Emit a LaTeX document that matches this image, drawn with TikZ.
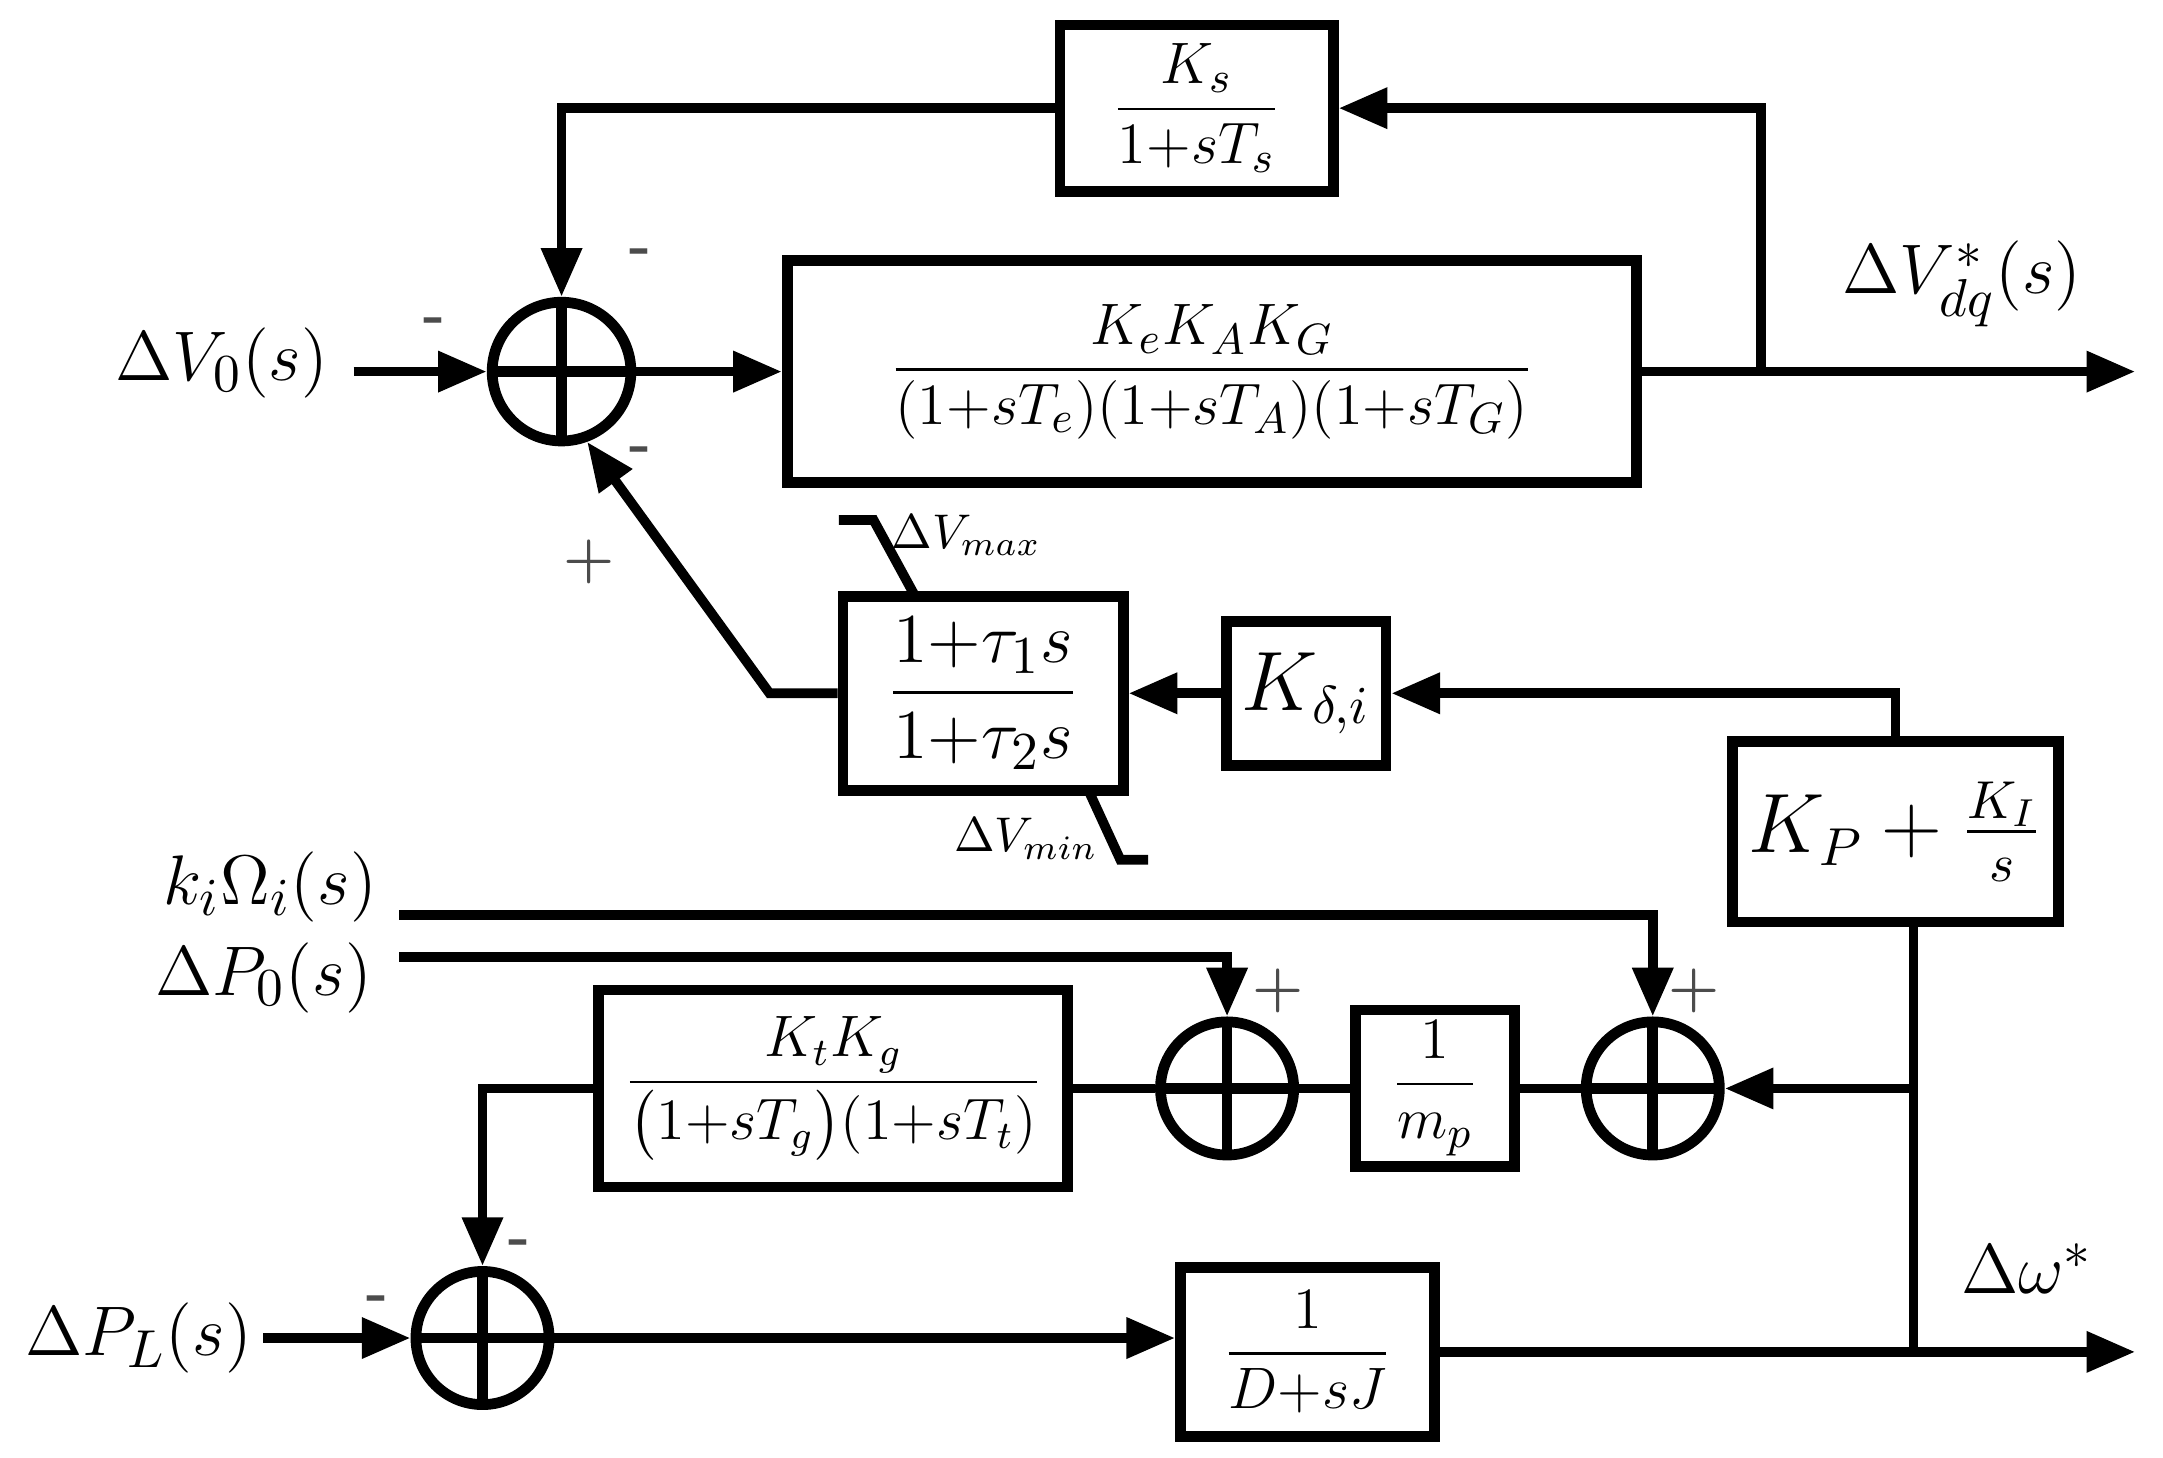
\documentclass[tikz,border=0pt]{standalone}
\usepackage{amsmath}
\usetikzlibrary{arrows.meta}
\begin{document}
\begin{tikzpicture}[x=0.01cm,y=-0.01cm,line width=2pt,
  blk/.style={draw,line width=2.2pt,inner sep=0pt},
  sum/.style={draw,circle,line width=2.2pt,minimum size=0.96cm,inner sep=0pt,
    path picture={\draw[line width=2.2pt] (path picture bounding box.north)--(path picture bounding box.south) (path picture bounding box.west)--(path picture bounding box.east);}},
  arr/.style={-{Triangle[length=10pt,width=8pt]}},
  sg/.style={font=\bfseries\large,text=black!70},
  lbl/.style={font=\fontsize{15}{18}\selectfont}]
\useasboundingbox (0,0) rectangle (1560,1051);
% sum nodes
\node[sum,minimum size=1.0cm] (s1) at (405,268) {};
\node[sum] (s2) at (885,785) {};
\node[sum] (s3) at (1192,785) {};
\node[sum] (s4) at (348,965) {};
% blocks
\node[blk,minimum width=6.12cm,minimum height=1.6cm] (G) at (874,268) {\fontsize{13}{16}\selectfont$\dfrac{K_eK_AK_G}{(1{+}sT_e)(1{+}sT_A)(1{+}sT_G)}$};
\node[blk,minimum width=1.97cm,minimum height=1.2cm] (Ks) at (863,78) {\fontsize{13}{16}\selectfont$\dfrac{K_s}{1{+}sT_s}$};
\node[blk,minimum width=2.02cm,minimum height=1.4cm] (LL) at (709,500) {\fontsize{15}{18}\selectfont$\dfrac{1{+}\tau_1 s}{1{+}\tau_2 s}$};
\node[blk,minimum width=1.15cm,minimum height=1.04cm] (Kd) at (942,500) {\fontsize{16}{19}\selectfont$K_{\delta,i}$};
\node[blk,minimum width=2.35cm,minimum height=1.3cm] (PI) at (1367,600) {\fontsize{16}{19}\selectfont$K_P+\frac{K_I}{s}$};
\node[blk,minimum width=1.15cm,minimum height=1.13cm] (mp) at (1035,785) {\fontsize{13}{16}\selectfont$\dfrac{1}{m_p}$};
\node[blk,minimum width=3.38cm,minimum height=1.42cm] (Kt) at (601,785) {\fontsize{12}{15}\selectfont$\dfrac{K_tK_g}{\big(1{+}sT_g\big)(1{+}sT_t)}$};
\node[blk,minimum width=1.83cm,minimum height=1.22cm] (DJ) at (943,975) {\fontsize{13}{16}\selectfont$\dfrac{1}{D{+}sJ}$};
% labels / coordinates
\node[lbl] (v0) at (160,262) {$\Delta V_0(s)$};
\node[lbl] (vdq) at (1415,205) {$\Delta V^*_{dq}(s)$};
\node[lbl] (ki) at (195,640) {$k_i\Omega_i(s)$};
\node[lbl] (p0) at (190,705) {$\Delta P_0(s)$};
\node[lbl] (pl) at (100,965) {$\Delta P_L(s)$};
\node[lbl] (dw) at (1462,915) {$\Delta\omega^*$};
\coordinate (o1) at (1540,268);
\coordinate (o2) at (1540,975);
\coordinate (fb) at (1270,268);
\coordinate (br) at (1380,785);
\coordinate (bw) at (1380,975);
\coordinate (dg) at (555,500);
% top loop
\draw[arr] (255,268) -- (s1.west);
\draw[arr] (s1.east) -- (G.west);
\draw[arr] (G.east) -- (o1);
\draw[arr] (fb) |- (Ks.east);
\draw[arr] (Ks.west) -| (s1.north);
\draw[arr] (PI.north) |- (Kd.east);
\draw[arr] (Kd.west) -- (LL.east);
\draw[arr] (LL.west) -- (dg) -- (s1.-70);
% limits
\draw (605,375) -- (630,375) -- (660,430);
\node[font=\normalsize] at (697,386) {$\Delta V_{max}$};
\draw (785,570) -- (808,620) -- (828,620);
\node[font=\normalsize] at (740,605) {$\Delta V_{min}$};
% bottom
\draw[arr] (288,660) -| (s3.north);
\draw[arr] (288,690) -| (s2.north);
\draw (Kt.east) -- (s2.west);
\draw (s2.east) -- (mp.west);
\draw (mp.east) -- (s3.west);
\draw (PI.south-|bw) -- (bw);
\draw[arr] (br) -- (s3.east);
\draw[arr] (Kt.west) -| (s4.north);
\draw[arr] (190,965) -- (s4.west);
\draw[arr] (s4.east) -- (s4.east-|DJ.west);
\draw[arr] (DJ.east) -- (o2);
% signs
\node[sg] at (313,235) {-};
\node[sg] at (462,185) {-};
\node[sg] at (462,328) {-};
\node[sg] at (425,405) {+};
\node[sg] at (272,940) {-};
\node[sg] at (375,900) {-};
\node[sg] at (922,715) {+};
\node[sg] at (1222,715) {+};
\end{tikzpicture}
\end{document}
